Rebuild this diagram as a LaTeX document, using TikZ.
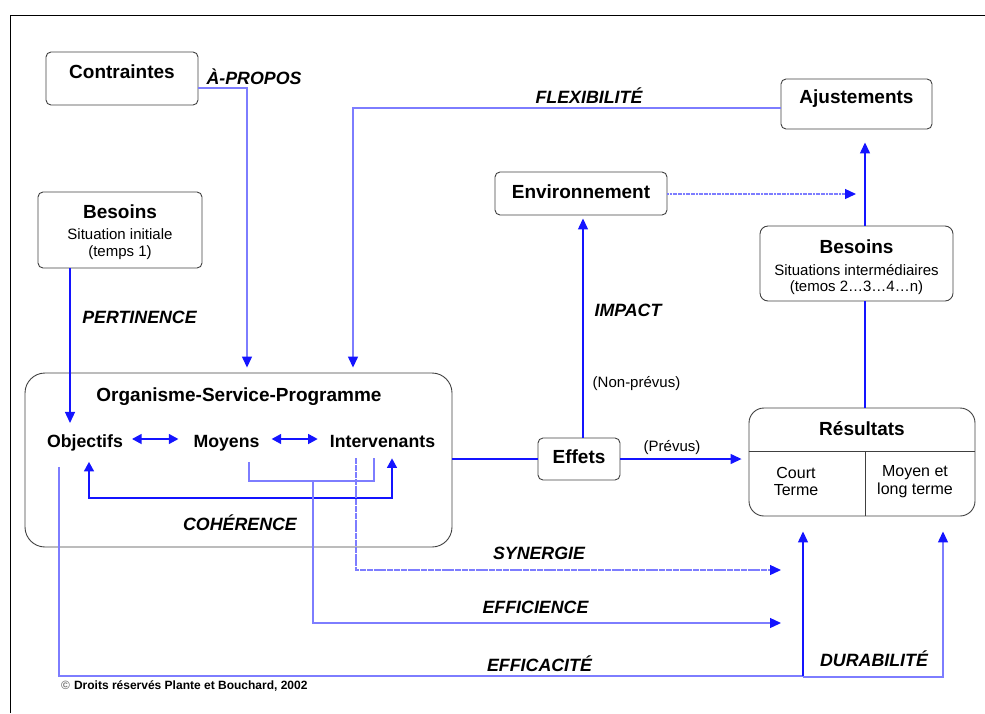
\documentclass[tikz,border=0pt]{standalone}
\usepackage{fontspec}
\setmainfont{Liberation Sans}
\usetikzlibrary{arrows.meta}
\definecolor{solidblue}{RGB}{20,20,255}
\definecolor{lightblue}{RGB}{125,125,255}
\tikzset{
  box/.style={draw=black!75, line width=0.9pt, rounded corners=5pt, inner sep=0pt},
  ttl/.style={font=\fontsize{19}{21}\selectfont\bfseries, inner sep=0pt},
  item/.style={font=\fontsize{17.7}{20}\selectfont\bfseries, inner xsep=0pt, inner ysep=11pt, anchor=base},
  sub/.style={font=\fontsize{15}{17}\selectfont, inner sep=0pt, align=center},
  subr/.style={font=\fontsize{16}{17.5}\selectfont, inner sep=0pt, align=center},
  lbl/.style={font=\fontsize{17.8}{20}\selectfont\bfseries\itshape, inner sep=0pt},
  tip/.style={-{Triangle[length=11pt,width=10pt,color=solidblue]}},
  dtip/.style={{Triangle[length=9.5pt,width=10pt,color=solidblue]}-{Triangle[length=9.5pt,width=10pt,color=solidblue]}},
  sline/.style={draw=solidblue, line width=1.3pt},
  lline/.style={draw=lightblue, line width=1.3pt},
}
\begin{document}
\begin{tikzpicture}[x=1pt, y=-1pt]
\useasboundingbox (0,0) rectangle (985,713);
% frame
\draw[line width=1pt] (10,713) -- (10,15) -- (985,15);

% boxes
\node[box, minimum width=152pt, minimum height=53pt] (contr) at (122,78.5) {};
\node[ttl] (contrT) at (122,72) {Contraintes};

\node[box, minimum width=164pt, minimum height=76pt] (besL) at (120,230) {};
\node[ttl] (besLT) at (120,212) {Besoins};
\node[sub, font=\fontsize{15}{17}\selectfont] (besLS) at (120,244.5) {Situation initiale\\(temps 1)};

\node[box, minimum width=151pt, minimum height=50pt] (ajust) at (856.5,104) {};
\node[ttl] (ajustT) at (856.5,99) {Ajustements};

\node[box, minimum width=172pt, minimum height=43pt] (env) at (581,193.5) {};
\node[ttl] (envT) at (581,192) {Environnement};

\node[box, minimum width=193pt, minimum height=75pt, rounded corners=8pt] (besR) at (856.5,263.5) {};
\node[ttl] (besRT) at (856.5,247) {Besoins};
\node[sub, font=\fontsize{15}{16}\selectfont] (besRS) at (856.5,279.5) {Situations intermédiaires\\(temos 2…3…4…n)};

\node[box, minimum width=427pt, minimum height=174pt, rounded corners=20pt] (org) at (238.5,460) {};
\node[ttl] (orgT) at (239,397) {Organisme-Service-Programme};
\node[item] (obj) at (85,447) {Objectifs};
\node[item] (moy) at (226.5,447) {Moyens};
\node[item] (int) at (382.5,447) {Intervenants};

\node[box, minimum width=82pt, minimum height=42pt] (effets) at (579,459) {};
\node[ttl] (effetsT) at (579,457) {Effets};

\node[box, minimum width=226pt, minimum height=108pt, rounded corners=15pt] (res) at (862,462) {};
\node[ttl] (resT) at (862,429) {Résultats};
\node[subr] (court) at (796,481.5) {Court\\Terme};
\node[subr] (moyen) at (915,481.5) {Moyen et\\long terme};
\draw[draw=black!75, line width=0.9pt] (res.west |- 0,451) -- (res.east |- 0,451);
\draw[draw=black!75, line width=0.9pt] (865,451) -- (res.south -| 865,0);

% labels
\node[lbl] (lApropos) at (254,77) {À-PROPOS};
\node[lbl] (lFlex) at (589,96) {FLEXIBILITÉ};
\node[lbl] (lPert) at (139.5,317) {PERTINENCE};
\node[lbl] (lImpact) at (628,310) {IMPACT};
\node[sub] (lNonPrevus) at (636.5,384) {(Non-prévus)};
\node[sub] (lPrevus) at (672,448) {(Prévus)};
\node[lbl] (lCoh) at (240,523) {COHÉRENCE};
\node[lbl] (lSyn) at (539,553) {SYNERGIE};
\node[lbl] (lEffc) at (535.5,607) {EFFICIENCE};
\node[lbl] (lEffa) at (539.5,664) {EFFICACITÉ};
\node[lbl] (lDur) at (874,659) {DURABILITÉ};
\node[font=\fontsize{12}{14}\selectfont\bfseries, inner sep=0pt, anchor=west] (copy) at (61,686) {\textcolor{black!55}{©}\hspace{4pt}Droits réservés Plante et Bouchard, 2002};

% coordinates for free ends
\coordinate (envTip) at (856,194);
\coordinate (synTip) at (781,570);
\coordinate (effcTip) at (781,623);
\coordinate (effaCorner) at (803,676);

% connectors
\draw[lline, tip, shorten >=5pt] (contr.east |- 0,88) -| (org.north -| 247,0);
\draw[lline, tip, shorten >=5pt] (ajust.west |- 0,108) -| (org.north -| 353,0);
\draw[sline, tip] (besL.south -| 70,0) -- (obj.north -| 70,0);
\draw[sline, dtip] ([xshift=9pt]obj.east |- 0,439) -- ([xshift=-15pt]moy.west |- 0,439);
\draw[sline, dtip] ([xshift=12pt]moy.east |- 0,439) -- ([xshift=-12pt]int.west |- 0,439);
\draw[sline, dtip] (int.south -| 392,0) -- (392,498) -- (89,498) -- (obj.south -| 89,0);
\draw[lline] (moy.south -| 249,0) -- (249,481) -- (374,481) -- (int.south -| 374,0);
\draw[lline, tip] (313,481) -- (313,623) -- (effcTip);
\draw[lline, tip, dash pattern=on 6pt off 0.8pt] (int.south -| 356,0) -- (356,570) -- (synTip);
\draw[lline] (obj.south -| 59,0) ++(0,5) -- (59,676) -- (effaCorner);
\draw[sline, tip, shorten >=15pt] (effaCorner) -- (res.south -| 803,0);
\draw[lline, tip, shorten >=15pt] (803,677) -| (res.south -| 943,0);
\draw[sline] (org.east |- effets.west) -- (effets.west);
\draw[sline, tip, shorten >=7pt] (effets.east) -- (res.west |- effets.east);
\draw[sline, tip, shorten >=3pt] (effets.north -| 583,0) -- (env.south -| 583,0);
\draw[lline, tip, dash pattern=on 2pt off 0.6pt] (env.east |- envTip) -- (envTip);
\draw[sline, tip, shorten >=13pt] (besR.north -| 865,0) -- (ajust.south -| 865,0);
\draw[sline] (res.north -| 865,0) -- (besR.south -| 865,0);
\end{tikzpicture}
\end{document}
